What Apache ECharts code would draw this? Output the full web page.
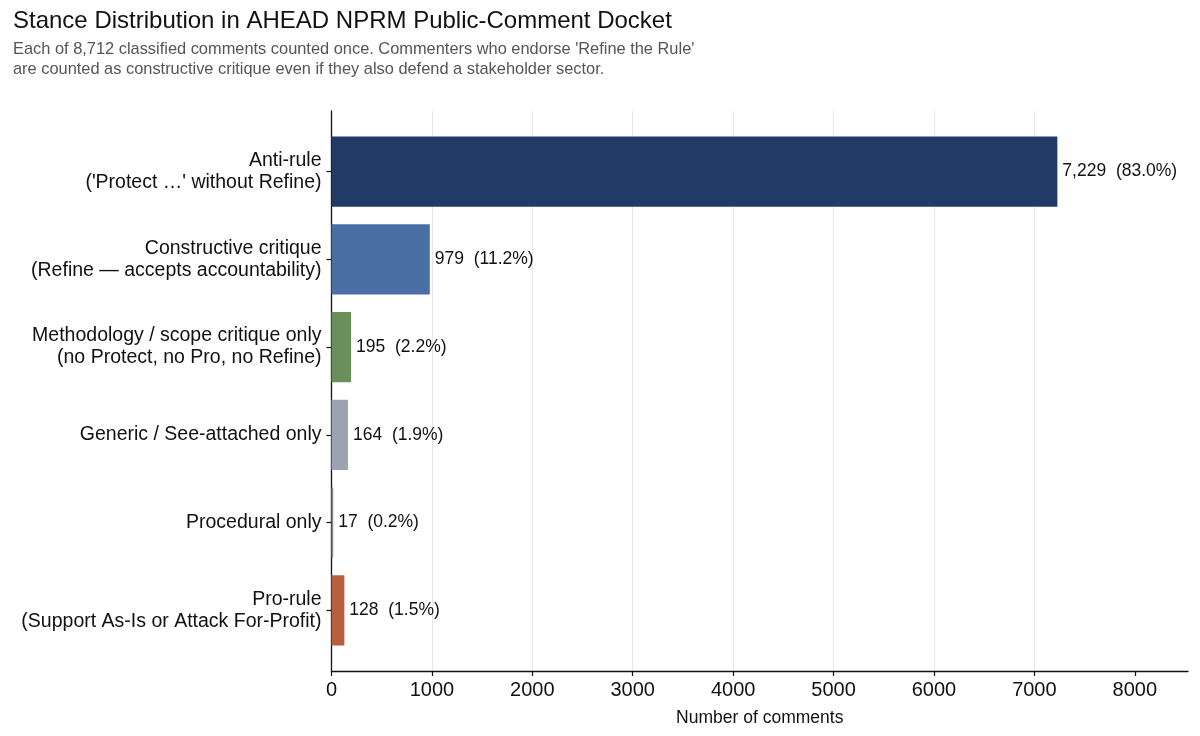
<!DOCTYPE html>
<html>
<head>
<meta charset="utf-8">
<script src="https://cdn.jsdelivr.net/npm/echarts@6/dist/echarts.min.js"></script>
<style>html,body{margin:0;padding:0;background:#fff;}#chart{width:1200px;height:736px;}</style>
</head>
<body>
<div id="chart"></div>
<script>
const categories = [
  "Anti-rule\n('Protect \u2026' without Refine)",
  "Constructive critique\n(Refine \u2014 accepts accountability)",
  "Methodology / scope critique only\n(no Protect, no Pro, no Refine)",
  "Generic / See-attached only",
  "Procedural only",
  "Pro-rule\n(Support As-Is or Attack For-Profit)"
];
const counts = [7229, 979, 195, 164, 17, 128];
const percents = [83.0, 11.2, 2.2, 1.9, 0.2, 1.5];
const barColors = ["#223a66", "#4a6fa5", "#6a8f5a", "#9ba3b1", "#8a8a8a", "#b95f3f"];
const xTicks = [0, 1000, 2000, 3000, 4000, 5000, 6000, 7000, 8000];
const xMax = 8530;

const FONT = "Liberation Sans, Arial, Helvetica, sans-serif";
const chart = echarts.init(document.getElementById('chart'));
const L = 331.5, R = 12;

chart.setOption({
  backgroundColor: '#fff',
  animation: false,
  title: {
    text: 'Stance Distribution in AHEAD NPRM Public-Comment Docket',
    subtext: "Each of 8,712 classified comments counted once. Commenters who endorse 'Refine the Rule'\nare counted as constructive critique even if they also defend a stakeholder sector.",
    left: 8, top: 4,
    itemGap: 6,
    textStyle: { fontFamily: FONT, fontSize: 24, fontWeight: 'normal', color: '#111' },
    subtextStyle: { fontFamily: FONT, fontSize: 16.4, color: '#555', lineHeight: 20 }
  },
  grid: [
    { left: L, right: R, top: 111, bottom: 65 },
    { left: L, right: R, top: 127.7, bottom: 81.7 }
  ],
  xAxis: [
    {
      gridIndex: 0, type: 'value', min: 0, max: xMax, interval: 1000,
      name: 'Number of comments', nameLocation: 'middle', nameGap: 38,
      nameTextStyle: { fontFamily: FONT, fontSize: 17.5, color: '#111' },
      axisLine: { show: true, lineStyle: { color: '#111', width: 1.3 } },
      axisTick: { show: true, length: 5, customValues: xTicks, lineStyle: { color: '#111', width: 1.2 } },
      axisLabel: { customValues: xTicks, formatter: v => String(v), fontFamily: FONT, fontSize: 20, color: '#111', margin: 9 },
      splitLine: { show: true, showMaxLine: false, lineStyle: { color: '#e6e6e6', width: 1 } }
    },
    { gridIndex: 1, type: 'value', min: 0, max: xMax, show: false }
  ],
  yAxis: [
    {
      gridIndex: 0, type: 'value', min: 0, max: 1,
      axisLine: { show: true, lineStyle: { color: '#111', width: 1.3 } },
      axisTick: { show: false }, axisLabel: { show: false }, splitLine: { show: false }
    },
    {
      gridIndex: 1, type: 'category', data: categories, inverse: true,
      axisLine: { show: false },
      axisTick: { show: true, alignWithLabel: true, length: 5, lineStyle: { color: '#111', width: 1.2 } },
      axisLabel: { fontFamily: FONT, fontSize: 19.5, color: '#111', lineHeight: 22, margin: 10, align: 'right' },
      splitLine: { show: false }
    }
  ],
  series: [{
    type: 'bar', xAxisIndex: 1, yAxisIndex: 1,
    barCategoryGap: '20%',
    data: counts.map((v, i) => ({ value: v, itemStyle: { color: barColors[i] } })),
    label: {
      show: true, position: 'right', distance: 5,
      fontFamily: FONT, fontSize: 17.5, color: '#111',
      formatter: p => counts[p.dataIndex].toLocaleString('en-US') + '  (' + percents[p.dataIndex].toFixed(1) + '%)'
    }
  }]
});
</script>
</body>
</html>
